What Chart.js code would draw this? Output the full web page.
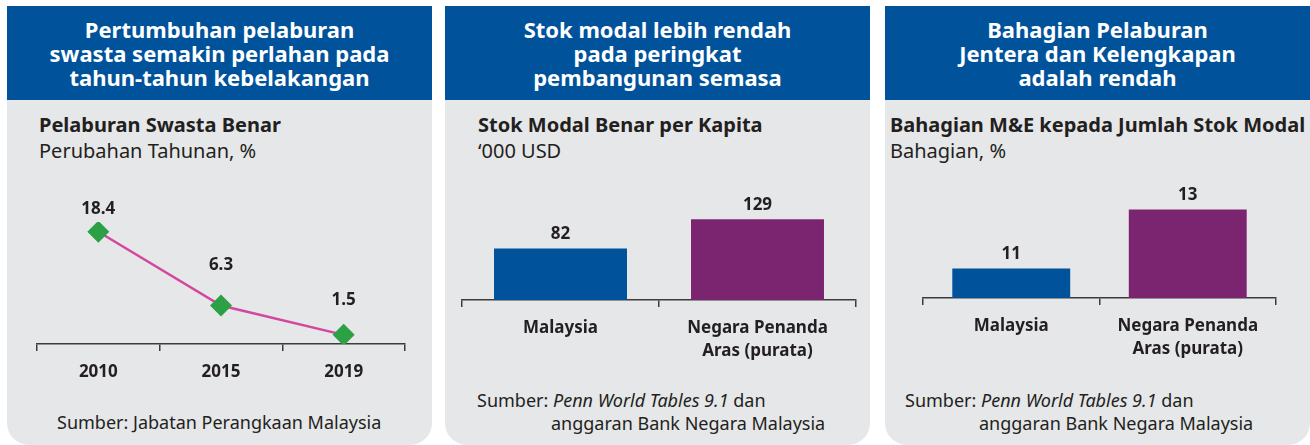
<!DOCTYPE html>
<html>
<head>
<meta charset="utf-8">
<script src="https://cdn.jsdelivr.net/npm/chart.js@4/dist/chart.umd.min.js"></script>
<style>
  html, body { margin: 0; padding: 0; background: #ffffff; }
  body { width: 1310px; height: 445px; position: relative; overflow: hidden; font-family: "Noto Sans", sans-serif; color: #231f20; }
  .panel { position: absolute; top: 6px; width: 425px; height: 439px; background: #e6e7e9; border-radius: 0 0 22px 22px; overflow: hidden; }
  .head { position: absolute; left: 0; top: 0; width: 100%; height: 94px; background: #00529b; color: #fff; font-weight: 700; font-size: 22px; line-height: 24px; text-align: center; box-sizing: border-box; padding-top: 11px; }
  .sub { position: absolute; font-size: 20px; line-height: 26px; white-space: nowrap; }
  .sub b { font-weight: 700; }
  .src { position: absolute; font-size: 18px; line-height: 23px; white-space: nowrap; color: #231f20; }
  canvas { position: absolute; }
</style>
</head>
<body>
<div class="panel" style="left:7px">
  <div class="head">Pertumbuhan pelaburan<br>swasta semakin perlahan pada<br>tahun-tahun kebelakangan</div>
  <div class="sub" style="left:32px; top:106px"><b>Pelaburan Swasta Benar</b><br>Perubahan Tahunan, %</div>
  <div class="src" style="left:50px; top:405px">Sumber: Jabatan Perangkaan Malaysia</div>
</div>
<div class="panel" style="left:445px">
  <div class="head">Stok modal lebih rendah<br>pada peringkat<br>pembangunan semasa</div>
  <div class="sub" style="left:33px; top:106px"><b>Stok Modal Benar per Kapita</b><br>‘000 USD</div>
  <div class="src" style="left:32px; top:383px">Sumber: <i>Penn World Tables 9.1</i> dan<br><span style="padding-left:74px">anggaran Bank Negara Malaysia</span></div>
</div>
<div class="panel" style="left:885px">
  <div class="head">Bahagian Pelaburan<br>Jentera dan Kelengkapan<br>adalah rendah</div>
  <div class="sub" style="left:5px; top:106px"><b>Bahagian M&amp;E kepada Jumlah Stok Modal</b><br>Bahagian, %</div>
  <div class="src" style="left:20px; top:383px">Sumber: <i>Penn World Tables 9.1</i> dan<br><span style="padding-left:74px">anggaran Bank Negara Malaysia</span></div>
</div>

<canvas id="c1" width="425" height="220" style="left:7px; top:180px"></canvas>
<canvas id="c2" width="425" height="220" style="left:445px; top:180px"></canvas>
<canvas id="c3" width="425" height="220" style="left:885px; top:180px"></canvas>

<script>
// ---- data ----
const yearLabels = ['2010', '2015', '2019'];
const investmentGrowth = [18.4, 6.3, 1.5];

const compareLabels = ['Malaysia', ['Negara Penanda', 'Aras (purata)']];
const capitalStockPerCapita = [82, 129];
const meShare = [11, 13];

const barColors = ['#00529b', '#7b2570'];

const FONT = '"Noto Sans", sans-serif';
const TEXT = '#231f20';
const AXIS = '#3c3c3c';

// value labels plugin
const valueLabels = {
  id: 'valueLabels',
  afterDatasetsDraw(chart, args, opts) {
    const ctx = chart.ctx;
    ctx.save();
    ctx.font = '700 17px ' + FONT;
    ctx.fillStyle = TEXT;
    ctx.textAlign = 'center';
    ctx.textBaseline = 'bottom';
    const ds = chart.data.datasets[0];
    const gaps = opts.gaps || [];
    chart.getDatasetMeta(0).data.forEach((el, i) => {
      const v = ds.data[i];
      const p = el.getProps(['x', 'y'], true);
      const g = gaps[i] !== undefined ? gaps[i] : 6;
      ctx.fillText(String(v), p.x, p.y - g);
    });
    ctx.restore();
  }
};

function xAxis(height, padding) {
  return {
    type: 'category',
    offset: true,
    afterFit: (s) => { s.height = height; },
    grid: { display: true, drawOnChartArea: false, drawTicks: true, tickLength: 7, offset: true, color: AXIS, lineWidth: 1.5 },
    border: { display: true, color: AXIS, width: 1.5 },
    ticks: { color: TEXT, font: { family: FONT, size: 17, weight: '700', lineHeight: 1.35 }, padding: padding, maxRotation: 0, autoSkip: false }
  };
}

Chart.defaults.animation = false;
Chart.defaults.responsive = false;

new Chart(document.getElementById('c1'), {
  type: 'line',
  data: {
    labels: yearLabels,
    datasets: [{
      data: investmentGrowth,
      borderColor: '#d3479f',
      borderWidth: 2.5,
      tension: 0,
      pointStyle: 'rectRot',
      pointRadius: 11,
      pointBackgroundColor: '#2ca044',
      pointBorderColor: '#2ca044',
      pointBorderWidth: 0
    }]
  },
  options: {
    layout: { padding: { left: 30, right: 27, top: 42, bottom: 0 } },
    plugins: { legend: { display: false }, tooltip: { enabled: false }, valueLabels: { gaps: [14, 32, 26] } },
    scales: {
      x: xAxis(56, 10),
      y: { display: false, min: 0, max: 20 }
    }
  },
  plugins: [valueLabels]
});

new Chart(document.getElementById('c2'), {
  type: 'bar',
  data: {
    labels: compareLabels,
    datasets: [{ data: capitalStockPerCapita, backgroundColor: barColors, categoryPercentage: 1, barPercentage: 0.675 }]
  },
  options: {
    layout: { padding: { left: 17, right: 14, top: 26, bottom: 0 } },
    plugins: { legend: { display: false }, tooltip: { enabled: false }, valueLabels: { gaps: [6, 6] } },
    scales: {
      x: xAxis(100, 10),
      y: { display: false, min: 0, max: 150 }
    }
  },
  plugins: [valueLabels]
});

new Chart(document.getElementById('c3'), {
  type: 'bar',
  data: {
    labels: compareLabels,
    datasets: [{ data: meShare, backgroundColor: barColors, categoryPercentage: 1, barPercentage: 0.668 }]
  },
  options: {
    layout: { padding: { left: 38, right: 34, top: 0, bottom: 0 } },
    plugins: { legend: { display: false }, tooltip: { enabled: false }, valueLabels: { gaps: [6, 6] } },
    scales: {
      x: xAxis(102, 10),
      y: { display: false, min: 10, max: 14 }
    }
  },
  plugins: [valueLabels]
});
</script>
</body>
</html>
